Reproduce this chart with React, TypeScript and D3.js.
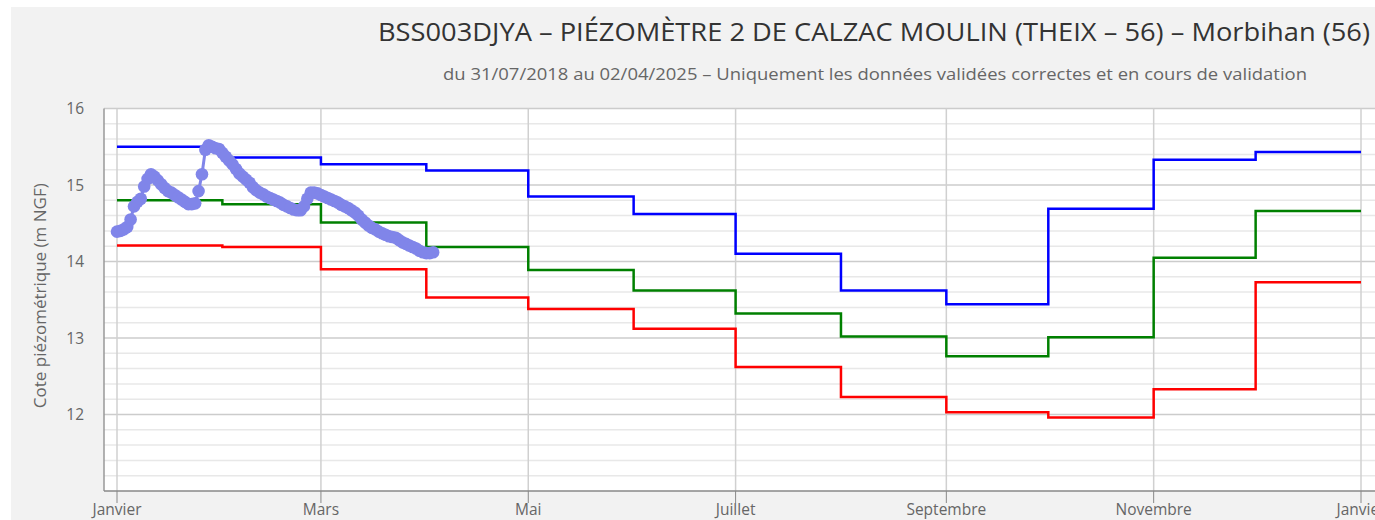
import React from "react";
import * as d3 from "d3";

const titleText = "BSS003DJYA – PIÉZOMÈTRE 2 DE CALZAC MOULIN (THEIX – 56) – Morbihan (56)";
const subtitleText = "du 31/07/2018 au 02/04/2025 – Uniquement les données validées correctes et en cours de validation";
const yAxisTitle = "Cote piézométrique (m NGF)";

// Reference year used to lay out the months on the axis
const monthStarts = ["2024-01-01","2024-02-01","2024-03-01","2024-04-01","2024-05-01","2024-06-01","2024-07-01","2024-08-01","2024-09-01","2024-10-01","2024-11-01","2024-12-01"];
const yearEnd = "2025-01-01";

const highValues = [15.50, 15.36, 15.27, 15.19, 14.85, 14.62, 14.10, 13.62, 13.44, 14.69, 15.33, 15.43];
const medianValues = [14.80, 14.75, 14.51, 14.19, 13.89, 13.62, 13.32, 13.02, 12.76, 13.01, 14.05, 14.66];
const lowValues = [14.21, 14.19, 13.90, 13.53, 13.38, 13.12, 12.62, 12.23, 12.03, 11.96, 12.33, 13.73];

const levelStart = "2024-01-01";
const levelValues = [
  14.39, 14.40, 14.42, 14.45, 14.55, 14.72, 14.78, 14.82, 14.98, 15.08,
  15.14, 15.11, 15.06, 15.01, 14.96, 14.92, 14.90, 14.87, 14.84, 14.81,
  14.78, 14.75, 14.75, 14.76, 14.92, 15.14, 15.46, 15.52, 15.50, 15.48,
  15.47, 15.42, 15.37, 15.32, 15.27, 15.21, 15.15, 15.11, 15.07, 15.03,
  14.97, 14.93, 14.90, 14.88, 14.85, 14.83, 14.81, 14.79, 14.77, 14.74,
  14.72, 14.70, 14.68, 14.67, 14.67, 14.72, 14.82, 14.90, 14.90, 14.89,
  14.87, 14.85, 14.83, 14.81, 14.79, 14.77, 14.74, 14.72, 14.70, 14.67,
  14.64, 14.60, 14.55, 14.51, 14.47, 14.44, 14.42, 14.39, 14.37, 14.35,
  14.33, 14.32, 14.31, 14.28, 14.25, 14.23, 14.21, 14.19, 14.17, 14.14,
  14.12, 14.11, 14.11, 14.12
];

const xTickDates = ["2024-01-01","2024-03-01","2024-05-01","2024-07-01","2024-09-01","2024-11-01","2025-01-01"];
const xTickLabels = ["Janvier","Mars","Mai","Juillet","Septembre","Novembre","Janvier"];
const yTicks = [12, 13, 14, 15, 16];

const parse = d3.utcParse("%Y-%m-%d");

export default function App() {
  const W = 1375, H = 520;
  const plotLeft = 104, plotTop = 108.5, plotBottom = 491, plotRight = 1380;
  const x = d3.scaleUtc().domain([parse("2024-01-01")!, parse("2025-01-01")!]).range([117, 1361]);
  const y = d3.scaleLinear().domain([11, 16]).range([plotBottom, plotTop]);

  const stepLine = d3.line<[Date, number]>().x(d => x(d[0])).y(d => y(d[1])).curve(d3.curveStepAfter);
  const stepData = (vals: number[]) => {
    const pts: [Date, number][] = monthStarts.map((m, i) => [parse(m)!, vals[i]]);
    pts.push([parse(yearEnd)!, vals[vals.length - 1]]);
    return pts;
  };
  const start = parse(levelStart)!;
  const levelPts: [Date, number][] = levelValues.map((v, i) => [d3.utcDay.offset(start, i), v]);
  const plainLine = d3.line<[Date, number]>().x(d => x(d[0])).y(d => y(d[1]));

  const minorTicks = d3.range(11, 16.001, 0.2).map(v => +v.toFixed(1)).filter(v => Math.abs(v - Math.round(v)) > 0.01);

  const font = "'Open Sans', 'DejaVu Sans', sans-serif";

  return (
    <svg width={W} height={H} style={{ position: "absolute", left: 0, top: 0 }} fontFamily={font}>
      <rect x={0} y={0} width={W} height={H} fill="#ffffff" />
      <rect x={11} y={7} width={W} height={H} fill="#f2f2f2" />
      <rect x={plotLeft} y={plotTop} width={plotRight - plotLeft} height={plotBottom - plotTop} fill="#ffffff" />
      <text x={874} y={41} textAnchor="middle" fontSize={25} fill="#333333" textLength={992} lengthAdjust="spacingAndGlyphs">{titleText}</text>
      <text x={875} y={80} textAnchor="middle" fontSize={15.5} fill="#666666" textLength={864} lengthAdjust="spacingAndGlyphs">{subtitleText}</text>

      {minorTicks.map(v => (
        <line key={"mn" + v} x1={plotLeft} x2={plotRight} y1={y(v)} y2={y(v)} stroke="#e8e8e8" strokeWidth={1.5} />
      ))}
      {yTicks.map(v => (
        <line key={"mj" + v} x1={plotLeft} x2={plotRight} y1={y(v)} y2={y(v)} stroke="#cccccc" strokeWidth={1.5} />
      ))}
      {xTickDates.map(d => (
        <line key={"vg" + d} x1={x(parse(d)!)} x2={x(parse(d)!)} y1={plotTop} y2={plotBottom} stroke="#d0d0d0" strokeWidth={1.5} />
      ))}
      <line x1={plotLeft} x2={plotLeft} y1={plotTop} y2={plotBottom} stroke="#999999" strokeWidth={1.5} />
      <line x1={plotLeft} x2={plotRight} y1={plotBottom} y2={plotBottom} stroke="#888888" strokeWidth={1.5} />

      {xTickDates.map((d, i) => (
        <g key={"xt" + d}>
          <line x1={x(parse(d)!)} x2={x(parse(d)!)} y1={plotBottom} y2={plotBottom + 12} stroke="#888888" strokeWidth={1} />
          <text x={x(parse(d)!)} y={515} textAnchor="middle" fontSize={15.5} fill="#666666">{xTickLabels[i]}</text>
        </g>
      ))}
      {yTicks.map(v => (
        <text key={"yl" + v} x={84} y={y(v) + 5.5} textAnchor="end" fontSize={15.5} fill="#666666">{v}</text>
      ))}
      <text transform={`translate(46,${(plotTop + plotBottom) / 2 - 4}) rotate(-90)`} textAnchor="middle" fontSize={17} fill="#666666">{yAxisTitle}</text>

      <path d={stepLine(stepData(lowValues))!} fill="none" stroke="#ff0000" strokeWidth={2.5} />
      <path d={stepLine(stepData(medianValues))!} fill="none" stroke="#008000" strokeWidth={2.5} />
      <path d={stepLine(stepData(highValues))!} fill="none" stroke="#0000ff" strokeWidth={2.5} />

      <path d={plainLine(levelPts)!} fill="none" stroke="#8085e9" strokeWidth={3} />
      {levelPts.map((p, i) => (
        <circle key={"pt" + i} cx={x(p[0])} cy={y(p[1])} r={6.3} fill="#8085e9" />
      ))}
    </svg>
  );
}
